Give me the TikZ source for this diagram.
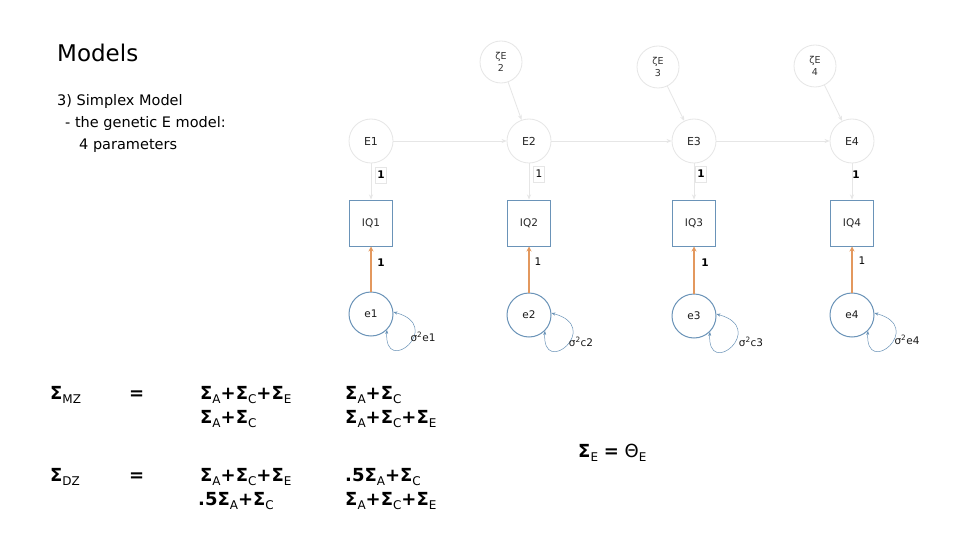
\documentclass[tikz,border=0pt]{standalone}
\usepackage{fontspec}
\setmainfont{DejaVu Sans}
\usetikzlibrary{arrows.meta}
\definecolor{steel}{HTML}{6A93B8}
\definecolor{orng}{HTML}{E3985E}
\definecolor{faintc}{HTML}{E6E6E6}
\newcommand\Sg[1]{\textbf{Σ}\raisebox{-4pt}{\fontsize{12}{12}\selectfont #1}}
\newcommand\Pl{\textbf{+}}
\begin{document}
\begin{tikzpicture}[x=1pt,y=-1pt,
  topc/.style={circle,draw=faintc,line width=0.8pt,minimum size=42pt,inner sep=0pt,align=center,
    font=\fontsize{9.5}{12}\selectfont,text=black!80},
  latc/.style={circle,draw=faintc,line width=0.8pt,minimum size=44pt,inner sep=0pt,
    font=\fontsize{11}{12}\selectfont,text=black!85},
  obsb/.style={rectangle,draw=steel,line width=1pt,minimum width=43pt,minimum height=46pt,inner sep=0pt,
    font=\fontsize{10.5}{12}\selectfont,text=black!85},
  errc/.style={circle,draw=steel,line width=1pt,minimum size=44pt,inner sep=0pt,
    font=\fontsize{10.5}{12}\selectfont,text=black!90},
  farr/.style={draw=faintc,line width=0.8pt,-{Stealth[length=5pt,width=4pt]}},
  oarr/.style={draw=orng,line width=1.8pt,-{Stealth[length=5pt,width=5pt]}},
  larr/.style={draw=steel,line width=0.5pt,{Stealth[length=4pt,width=3pt]}-{Stealth[length=4pt,width=3pt]}},
  onel/.style={font=\fontsize{10.5}{12}\selectfont,text=black,inner sep=2pt},
  onebox/.style={onel,draw=faintc,line width=0.6pt,minimum height=16pt},
  vlab/.style={font=\fontsize{10.5}{12}\selectfont,text=black!90},
  eq/.style={anchor=base west,inner sep=0pt,font=\fontsize{18}{20}\selectfont,text=black}
]
\useasboundingbox (0,0) rectangle (960,540);
\fill[white] (0,0) rectangle (960,540);

% titles
\node[anchor=base west,inner sep=0pt,font=\fontsize{23}{26}\selectfont,text=black] (title) at (57,62) {Models};
\node[anchor=base west,inner sep=0pt,font=\fontsize{14.5}{22}\selectfont,text=black] (t1) at (57,106) {3) Simplex Model};
\node[anchor=base west,inner sep=0pt,font=\fontsize{14.5}{22}\selectfont,text=black] (t2) at (65,128) {- the genetic E model:};
\node[anchor=base west,inner sep=0pt,font=\fontsize{14.5}{22}\selectfont,text=black] (t3) at (79,150) {4 parameters};

% top innovation circles
\node[topc] (z2) at (501,62) {ζE\\2};
\node[topc] (z3) at (658,67) {ζE\\3};
\node[topc] (z4) at (815,66) {ζE\\4};

% latent E
\node[latc] (E1) at (371,141) {E1};
\node[latc] (E2) at (529,141) {E2};
\node[latc] (E3) at (694,141) {E3};
\node[latc] (E4) at (852,141) {E4};

% observed
\node[obsb] (IQ1) at (371,223) {IQ1};
\node[obsb] (IQ2) at (529,223) {IQ2};
\node[obsb] (IQ3) at (694,223) {IQ3};
\node[obsb] (IQ4) at (852,223) {IQ4};

% errors
\node[errc] (e1) at (371,314) {e1};
\node[errc] (e2) at (529,315) {e2};
\node[errc] (e3) at (694,316) {e3};
\node[errc] (e4) at (852,315) {e4};

% faint paths
\draw[farr] (E1) -- (E2);
\draw[farr] (E2) -- (E3);
\draw[farr] (E3) -- (E4);
\draw[farr] (z2) -- (E2);
\draw[farr] (z3) -- (E3);
\draw[farr] (z4) -- (E4);
\draw[farr] (E1.south) -- (IQ1.north);
\draw[farr] (E2.south) -- (IQ2.north);
\draw[farr] (E3.south) -- (IQ3.north);
\draw[farr] (E4.south) -- (IQ4.north);

% loading labels top
\node[onebox,font=\fontsize{10.5}{12}\selectfont\bfseries] (l1) at (381,175) {1};
\node[onebox] (l2) at (539,174) {1};
\node[onebox,font=\fontsize{10.5}{12}\selectfont\bfseries] (l3) at (701,174) {1};
\node[onel,font=\fontsize{10.5}{12}\selectfont\bfseries] (l4) at (856,175) {1};

% orange paths
\draw[oarr] (e1.north) -- (IQ1.south);
\draw[oarr] (e2.north) -- (IQ2.south);
\draw[oarr] (e3.north) -- (IQ3.south);
\draw[oarr] (e4.north) -- (IQ4.south);
\node[onel,font=\fontsize{10.5}{12}\selectfont\bfseries] (m1) at (381,263) {1};
\node[onel] (m2) at (538,262) {1};
\node[onel,font=\fontsize{10.5}{12}\selectfont\bfseries] (m3) at (705,263) {1};
\node[onel] (m4) at (862,261) {1};

% variance loops
\draw[larr] (e1.-45) .. controls +(-3,48) and +(52,14) .. (e1.5);
\draw[larr] (e2.-45) .. controls +(-3,48) and +(52,14) .. (e2.5);
\draw[larr] (e3.-45) .. controls +(-3,48) and +(52,14) .. (e3.5);
\draw[larr] (e4.-45) .. controls +(-3,48) and +(52,14) .. (e4.5);
\node[vlab] (v1) at (423,337) {σ\textsuperscript{2}e1};
\node[vlab] (v2) at (581,342) {σ\textsuperscript{2}c2};
\node[vlab] (v3) at (751,342) {σ\textsuperscript{2}c3};
\node[vlab] (v4) at (907,340) {σ\textsuperscript{2}e4};

% equations
\node[eq] (smz) at (50,399) {\textbf{Σ}\raisebox{-4pt}{\fontsize{12}{12}\selectfont MZ}};
\node[eq] (eqa) at (129,399) {\textbf{=}};
\node[eq] (r1a) at (200,399) {\Sg{A}\Pl\Sg{C}\Pl\Sg{E}};
\node[eq] (r1b) at (345,399) {\Sg{A}\Pl\Sg{C}};
\node[eq] (r2a) at (200,423) {\Sg{A}\Pl\Sg{C}};
\node[eq] (r2b) at (345,423) {\Sg{A}\Pl\Sg{C}\Pl\Sg{E}};

\node[eq] (sdz) at (50,481) {\textbf{Σ}\raisebox{-4pt}{\fontsize{12}{12}\selectfont DZ}};
\node[eq] (eqb) at (129,481) {\textbf{=}};
\node[eq] (r3a) at (200,481) {\Sg{A}\Pl\Sg{C}\Pl\Sg{E}};
\node[eq] (r3b) at (345,481) {\textbf{.5}\Sg{A}\Pl\Sg{C}};
\node[eq] (r4a) at (198,505) {\textbf{.5}\Sg{A}\Pl\Sg{C}};
\node[eq] (r4b) at (345,505) {\Sg{A}\Pl\Sg{C}\Pl\Sg{E}};

\node[eq] (se) at (578,457) {\Sg{E} \textbf{=} Θ\raisebox{-4pt}{\fontsize{12}{12}\selectfont E}};
\end{tikzpicture}
\end{document}
